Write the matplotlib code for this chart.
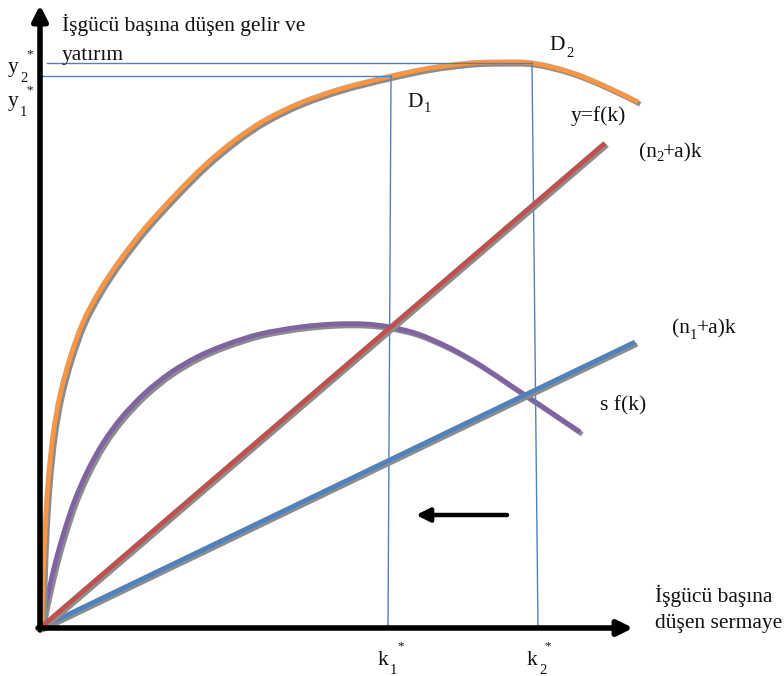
import matplotlib
matplotlib.use("Agg")
import matplotlib.pyplot as plt
import matplotlib.patheffects as pe
from matplotlib.path import Path
from matplotlib.patches import PathPatch

plt.rcParams['font.family'] = ['Liberation Serif', 'DejaVu Serif']

# --- data (diagram units: k to the right, y upward, origin at the axes corner) ---
f_k = [2, 3, 5, 8, 13, 20, 30, 43, 60, 80, 105, 135, 165, 195, 225, 260, 300, 347, 390, 430, 460, 493, 530, 565, 598]
f_y = [0, 48, 98, 145, 193, 233, 270, 306, 338, 368, 400, 433, 463, 488, 508, 525, 539, 551, 560, 565, 566, 565, 556, 542, 526]

sf_k = [1, 5, 10, 16, 24, 34, 47, 63, 82, 105, 130, 157, 185, 220, 260, 295, 325, 350, 378, 410, 440, 470, 500, 540]
sf_y = [0, 20, 43, 68, 96, 126, 156, 185, 211, 235, 255, 271, 283, 294, 301, 304, 304, 301, 294, 280, 263, 243, 223, 196]

n2_k = [0, 565]
n2_y = [0, 485]
n1_k = [0, 595]
n1_y = [0, 286]

k1_star = [348, 351]   # bottom, top of the vertical guide
k2_star = [498, 492]
y1_star = 552
y2_star = 565

fig = plt.figure(figsize=(7.84, 6.76), dpi=100)
ax = fig.add_axes([0, 0, 1, 1])
ax.set_xlim(-40, 744)
ax.set_ylim(-48, 628)
ax.axis('off')


def P(px, py):
    return px - 40, 628 - py


def smooth_path(xs, ys):
    pts = list(zip(xs, ys))
    verts = [pts[0]]
    codes = [Path.MOVETO]
    n = len(pts)
    for i in range(n - 1):
        p0 = pts[i - 1] if i > 0 else pts[i]
        p1 = pts[i]
        p2 = pts[i + 1]
        p3 = pts[i + 2] if i + 2 < n else pts[i + 1]
        c1 = (p1[0] + (p2[0] - p0[0]) / 6, p1[1] + (p2[1] - p0[1]) / 6)
        c2 = (p2[0] - (p3[0] - p1[0]) / 6, p2[1] - (p3[1] - p1[1]) / 6)
        verts += [c1, c2, p2]
        codes += [Path.CURVE4] * 3
    return Path(verts, codes)


shadow = [pe.SimpleLineShadow(offset=(1.6, -1.6), shadow_color='#8c8c8c', alpha=1.0), pe.Normal()]

# guide lines
guide = '#4F81BD'
ax.plot([k1_star[0], k1_star[1]], [0, y1_star], color=guide, lw=1.0)
ax.plot([k2_star[0], k2_star[1]], [0, y2_star], color=guide, lw=1.0)
ax.plot([2, k1_star[1]], [y1_star, y1_star], color=guide, lw=1.0)
ax.plot([7, k2_star[1]], [y2_star, y2_star], color=guide, lw=1.0)

# straight lines
ax.plot(n1_k, n1_y, color='#4F81BD', lw=3.4, solid_capstyle='butt', path_effects=shadow)
ax.plot(n2_k, n2_y, color='#C0504D', lw=3.4, solid_capstyle='butt', path_effects=shadow)

# curves
for xs, ys, col in [(sf_k, sf_y, '#8064A2'), (f_k, f_y, '#F79646')]:
    patch = PathPatch(smooth_path(xs, ys), fill=False, edgecolor=col, lw=3.5,
                      capstyle='butt', joinstyle='round', path_effects=shadow)
    ax.add_patch(patch)

# axes arrows
arrow_kw = dict(arrowstyle='-|>,head_length=0.9,head_width=0.45', color='black', lw=4.0,
                shrinkA=0, shrinkB=0)
for (x0, y0, x1, y1) in [(0, -2, 0, 623), (-2, 0, 593, 0)]:
    a = ax.annotate('', xy=(x1, y1), xytext=(x0, y0), arrowprops=dict(arrow_kw))
    a.arrow_patch.set_path_effects([pe.SimplePatchShadow(offset=(1.5, -1.5), shadow_rgbFace='#8c8c8c', alpha=1.0), pe.Normal()])

# small left arrow
a = ax.annotate('', xy=P(416, 515), xytext=P(507, 515),
                arrowprops=dict(arrowstyle='-|>,head_length=0.8,head_width=0.4', color='black', lw=3.2,
                                shrinkA=0, shrinkB=0))
a.arrow_patch.set_path_effects([pe.SimplePatchShadow(offset=(1.5, -1.5), shadow_rgbFace='#8c8c8c', alpha=1.0), pe.Normal()])

fs = 15.5
sub = 10.5
star = 9.5
tc = '#111111'


def lab(px, py, s, size=fs, va='baseline'):
    ax.text(*P(px, py), s, fontsize=size, color=tc, ha='left', va=va)


lab(62, 31, 'İşgücü başına düşen gelir ve')
lab(62, 60, 'yatırım')

# y* labels
lab(8, 72, 'y')
lab(20, 82, '2', sub)
lab(26, 54, '*', star, 'center')
lab(8, 106, 'y')
lab(20, 116, '1', sub)
lab(26, 90, '*', star, 'center')

# k* labels
lab(378, 665, 'k')
lab(390, 674, '1', sub)
lab(397, 646, '*', star, 'center')
lab(527, 665, 'k')
lab(539, 674, '2', sub)
lab(544, 646, '*', star, 'center')

# point labels
lab(549, 50, 'D')
lab(566, 57, '2', sub)
lab(407, 107, 'D')
lab(424, 112, '1', sub)

lab(571, 121, 'y=f(k)')
lab(639, 157, '(n')
lab(656, 161, '2', sub)
lab(663, 157, '+a)k')
lab(672, 333, '(n')
lab(690, 339, '1', sub)
lab(697, 333, '+a)k')
lab(600, 410, 's f(k)')

lab(655, 602, 'İşgücü başına')
lab(655, 628, 'düşen sermaye')

fig.savefig('out.png', dpi=100)
